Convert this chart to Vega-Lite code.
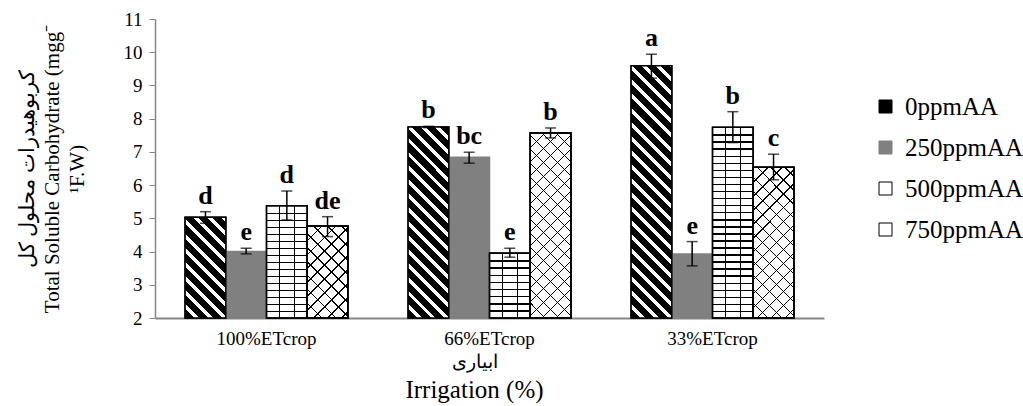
{
  "$schema": "https://vega.github.io/schema/vega-lite/v6.json",
  "width": 669,
  "height": 299,
  "autosize": {"type": "none"},
  "padding": {"left": 155, "top": 19, "right": 199, "bottom": 88},
  "background": "white",
  "config": {
    "view": {"stroke": null},
    "font": "Liberation Serif",
    "axis": {"labelFont": "Liberation Serif", "titleFont": "Liberation Serif", "labelColor": "black", "titleColor": "black"},
    "axisY": {
      "tickCount": 10,
      "labelOverlap": false,
      "grid": false,
      "domainColor": "#868686",
      "domainWidth": 1.5,
      "tickColor": "#868686",
      "tickSize": 6,
      "labelFontSize": 19,
      "labelPadding": 7,
      "titleFontSize": 21,
      "titleFontWeight": "normal",
      "titlePadding": 36,
      "titleLineHeight": 25
    },
    "axisX": {
      "labelAngle": 0,
      "ticks": false,
      "domainColor": "#868686",
      "domainWidth": 2,
      "labelFontSize": 19,
      "labelPadding": 11
    }
  },
  "data": {
    "values": [
      {"irrigation": "100%ETcrop", "dose": "0ppmAA", "value": 5.03, "lo": 4.85, "hi": 5.2, "letter": "d"},
      {"irrigation": "100%ETcrop", "dose": "250ppmAA", "value": 4.0, "lo": 3.93, "hi": 4.1, "letter": "e"},
      {"irrigation": "100%ETcrop", "dose": "500ppmAA", "value": 5.38, "lo": 4.95, "hi": 5.82, "letter": "d"},
      {"irrigation": "100%ETcrop", "dose": "750ppmAA", "value": 4.77, "lo": 4.45, "hi": 5.05, "letter": "de"},
      {"irrigation": "66%ETcrop", "dose": "0ppmAA", "value": 7.75, "lo": 7.73, "hi": 7.77, "letter": "b"},
      {"irrigation": "66%ETcrop", "dose": "250ppmAA", "value": 6.84, "lo": 6.66, "hi": 6.99, "letter": "bc"},
      {"irrigation": "66%ETcrop", "dose": "500ppmAA", "value": 3.95, "lo": 3.83, "hi": 4.1, "letter": "e"},
      {"irrigation": "66%ETcrop", "dose": "750ppmAA", "value": 7.57, "lo": 7.42, "hi": 7.72, "letter": "b"},
      {"irrigation": "33%ETcrop", "dose": "0ppmAA", "value": 9.59, "lo": 9.22, "hi": 9.94, "letter": "a"},
      {"irrigation": "33%ETcrop", "dose": "250ppmAA", "value": 3.93, "lo": 3.57, "hi": 4.3, "letter": "e"},
      {"irrigation": "33%ETcrop", "dose": "500ppmAA", "value": 7.74, "lo": 7.28, "hi": 8.21, "letter": "b"},
      {"irrigation": "33%ETcrop", "dose": "750ppmAA", "value": 6.54, "lo": 6.16, "hi": 6.93, "letter": "c"}
    ]
  },
  "title": {
    "text": "ابیاری",
    "subtitle": "Irrigation (%)",
    "orient": "bottom",
    "anchor": "middle",
    "frame": "group",
    "font": "Liberation Serif",
    "fontSize": 19,
    "fontWeight": "normal",
    "color": "black",
    "subtitleFont": "Liberation Serif",
    "subtitleFontSize": 25,
    "subtitleColor": "black",
    "offset": 5,
    "subtitlePadding": 6,
    "dx": -15
  },
  "encoding": {
    "x": {
      "field": "irrigation",
      "type": "nominal",
      "sort": ["100%ETcrop", "66%ETcrop", "33%ETcrop"],
      "scale": {"paddingInner": 0.27, "paddingOuter": 0.135},
      "axis": {"title": null}
    },
    "xOffset": {
      "field": "dose",
      "type": "nominal",
      "sort": ["0ppmAA", "250ppmAA", "500ppmAA", "750ppmAA"],
      "scale": {"paddingInner": 0, "paddingOuter": 0}
    }
  },
  "layer": [
    {
      "mark": {"type": "bar", "strokeWidth": 1.5},
      "encoding": {
        "y": {
          "field": "value",
          "type": "quantitative",
          "scale": {"domain": [2, 11], "zero": false, "nice": false},
          "axis": {"title": ["کربوهیدرات محلول کل", "Total Soluble Carbohydrate (mgg⁻", "¹F.W)"]}
        },
        "y2": {"datum": 2},
        "fill": {
          "field": "dose",
          "type": "nominal",
          "scale": {
            "domain": ["0ppmAA", "250ppmAA", "500ppmAA", "750ppmAA"],
            "range": ["#000000", "#808080", "#ffffff", "#ffffff"]
          },
          "legend": {
            "title": null,
            "orient": "none",
            "legendX": 718,
            "legendY": 75,
            "symbolType": "square",
            "symbolSize": 169,
            "symbolStrokeColor": "black",
            "symbolStrokeWidth": 1,
            "labelFont": "Liberation Serif",
            "labelFontSize": 25,
            "labelColor": "black",
            "labelOffset": 7,
            "rowPadding": 15,
            "padding": 0
          }
        },
        "stroke": {
          "field": "dose",
          "type": "nominal",
          "scale": {
            "domain": ["0ppmAA", "250ppmAA", "500ppmAA", "750ppmAA"],
            "range": ["#000000", "#808080", "#000000", "#000000"]
          },
          "legend": null
        }
      }
    },
    {
      "transform": [{"filter": "datum.dose == '0ppmAA' && datum.irrigation == '100%ETcrop'"}],
      "mark": {
        "type": "bar", "stroke": "black", "strokeWidth": 1.5,
        "fill": {
          "gradient": "linear", "x1": 0, "y1": 1, "x2": 0.4879, "y2": -0.2071,
          "stops": [
            {"offset": 0, "color": "#000"}, {"offset": 0.065, "color": "#000"}, {"offset": 0.065, "color": "#fff"}, {"offset": 0.1, "color": "#fff"},
            {"offset": 0.1, "color": "#000"}, {"offset": 0.165, "color": "#000"}, {"offset": 0.165, "color": "#fff"}, {"offset": 0.2, "color": "#fff"},
            {"offset": 0.2, "color": "#000"}, {"offset": 0.265, "color": "#000"}, {"offset": 0.265, "color": "#fff"}, {"offset": 0.3, "color": "#fff"},
            {"offset": 0.3, "color": "#000"}, {"offset": 0.365, "color": "#000"}, {"offset": 0.365, "color": "#fff"}, {"offset": 0.4, "color": "#fff"},
            {"offset": 0.4, "color": "#000"}, {"offset": 0.465, "color": "#000"}, {"offset": 0.465, "color": "#fff"}, {"offset": 0.5, "color": "#fff"},
            {"offset": 0.5, "color": "#000"}, {"offset": 0.565, "color": "#000"}, {"offset": 0.565, "color": "#fff"}, {"offset": 0.6, "color": "#fff"},
            {"offset": 0.6, "color": "#000"}, {"offset": 0.665, "color": "#000"}, {"offset": 0.665, "color": "#fff"}, {"offset": 0.7, "color": "#fff"},
            {"offset": 0.7, "color": "#000"}, {"offset": 0.765, "color": "#000"}, {"offset": 0.765, "color": "#fff"}, {"offset": 0.8, "color": "#fff"},
            {"offset": 0.8, "color": "#000"}, {"offset": 0.865, "color": "#000"}, {"offset": 0.865, "color": "#fff"}, {"offset": 0.9, "color": "#fff"},
            {"offset": 0.9, "color": "#000"}, {"offset": 0.965, "color": "#000"}, {"offset": 0.965, "color": "#fff"}, {"offset": 1, "color": "#fff"}
          ]
        }
      },
      "encoding": {"y": {"field": "value", "type": "quantitative"}, "y2": {"datum": 2}}
    },
    {
      "transform": [{"filter": "datum.dose == '0ppmAA' && datum.irrigation == '66%ETcrop'"}],
      "mark": {
        "type": "bar", "stroke": "black", "strokeWidth": 1.5,
        "fill": {
          "gradient": "linear", "x1": 0, "y1": 1, "x2": 0.2473, "y2": -0.1605,
          "stops": [
            {"offset": 0, "color": "#000"}, {"offset": 0.039, "color": "#000"}, {"offset": 0.039, "color": "#fff"}, {"offset": 0.06, "color": "#fff"},
            {"offset": 0.06, "color": "#000"}, {"offset": 0.099, "color": "#000"}, {"offset": 0.099, "color": "#fff"}, {"offset": 0.12, "color": "#fff"},
            {"offset": 0.12, "color": "#000"}, {"offset": 0.159, "color": "#000"}, {"offset": 0.159, "color": "#fff"}, {"offset": 0.18, "color": "#fff"},
            {"offset": 0.18, "color": "#000"}, {"offset": 0.219, "color": "#000"}, {"offset": 0.219, "color": "#fff"}, {"offset": 0.24, "color": "#fff"},
            {"offset": 0.24, "color": "#000"}, {"offset": 0.279, "color": "#000"}, {"offset": 0.279, "color": "#fff"}, {"offset": 0.3, "color": "#fff"},
            {"offset": 0.3, "color": "#000"}, {"offset": 0.339, "color": "#000"}, {"offset": 0.339, "color": "#fff"}, {"offset": 0.36, "color": "#fff"},
            {"offset": 0.36, "color": "#000"}, {"offset": 0.399, "color": "#000"}, {"offset": 0.399, "color": "#fff"}, {"offset": 0.42, "color": "#fff"},
            {"offset": 0.42, "color": "#000"}, {"offset": 0.459, "color": "#000"}, {"offset": 0.459, "color": "#fff"}, {"offset": 0.48, "color": "#fff"},
            {"offset": 0.48, "color": "#000"}, {"offset": 0.519, "color": "#000"}, {"offset": 0.519, "color": "#fff"}, {"offset": 0.54, "color": "#fff"},
            {"offset": 0.54, "color": "#000"}, {"offset": 0.579, "color": "#000"}, {"offset": 0.579, "color": "#fff"}, {"offset": 0.6, "color": "#fff"},
            {"offset": 0.6, "color": "#000"}, {"offset": 0.639, "color": "#000"}, {"offset": 0.639, "color": "#fff"}, {"offset": 0.66, "color": "#fff"},
            {"offset": 0.66, "color": "#000"}, {"offset": 0.699, "color": "#000"}, {"offset": 0.699, "color": "#fff"}, {"offset": 0.72, "color": "#fff"},
            {"offset": 0.72, "color": "#000"}, {"offset": 0.759, "color": "#000"}, {"offset": 0.759, "color": "#fff"}, {"offset": 0.78, "color": "#fff"},
            {"offset": 0.78, "color": "#000"}, {"offset": 0.819, "color": "#000"}, {"offset": 0.819, "color": "#fff"}, {"offset": 0.84, "color": "#fff"},
            {"offset": 0.84, "color": "#000"}, {"offset": 0.879, "color": "#000"}, {"offset": 0.879, "color": "#fff"}, {"offset": 0.9, "color": "#fff"},
            {"offset": 0.9, "color": "#000"}, {"offset": 0.939, "color": "#000"}, {"offset": 0.939, "color": "#fff"}, {"offset": 0.96, "color": "#fff"},
            {"offset": 0.96, "color": "#000"}, {"offset": 0.999, "color": "#000"}, {"offset": 0.999, "color": "#fff"}, {"offset": 1, "color": "#fff"}
          ]
        }
      },
      "encoding": {"y": {"field": "value", "type": "quantitative"}, "y2": {"datum": 2}}
    },
    {
      "transform": [{"filter": "datum.dose == '0ppmAA' && datum.irrigation == '33%ETcrop'"}],
      "mark": {
        "type": "bar", "stroke": "black", "strokeWidth": 1.5,
        "fill": {
          "gradient": "linear", "x1": 0, "y1": 1, "x2": 0.1827, "y2": -0.132,
          "stops": [
            {"offset": 0, "color": "#000"}, {"offset": 0.031, "color": "#000"}, {"offset": 0.031, "color": "#fff"}, {"offset": 0.048, "color": "#fff"},
            {"offset": 0.048, "color": "#000"}, {"offset": 0.079, "color": "#000"}, {"offset": 0.079, "color": "#fff"}, {"offset": 0.096, "color": "#fff"},
            {"offset": 0.096, "color": "#000"}, {"offset": 0.127, "color": "#000"}, {"offset": 0.127, "color": "#fff"}, {"offset": 0.144, "color": "#fff"},
            {"offset": 0.144, "color": "#000"}, {"offset": 0.175, "color": "#000"}, {"offset": 0.175, "color": "#fff"}, {"offset": 0.192, "color": "#fff"},
            {"offset": 0.192, "color": "#000"}, {"offset": 0.223, "color": "#000"}, {"offset": 0.223, "color": "#fff"}, {"offset": 0.24, "color": "#fff"},
            {"offset": 0.24, "color": "#000"}, {"offset": 0.271, "color": "#000"}, {"offset": 0.271, "color": "#fff"}, {"offset": 0.288, "color": "#fff"},
            {"offset": 0.288, "color": "#000"}, {"offset": 0.319, "color": "#000"}, {"offset": 0.319, "color": "#fff"}, {"offset": 0.336, "color": "#fff"},
            {"offset": 0.336, "color": "#000"}, {"offset": 0.367, "color": "#000"}, {"offset": 0.367, "color": "#fff"}, {"offset": 0.384, "color": "#fff"},
            {"offset": 0.384, "color": "#000"}, {"offset": 0.415, "color": "#000"}, {"offset": 0.415, "color": "#fff"}, {"offset": 0.432, "color": "#fff"},
            {"offset": 0.432, "color": "#000"}, {"offset": 0.463, "color": "#000"}, {"offset": 0.463, "color": "#fff"}, {"offset": 0.48, "color": "#fff"},
            {"offset": 0.48, "color": "#000"}, {"offset": 0.511, "color": "#000"}, {"offset": 0.511, "color": "#fff"}, {"offset": 0.528, "color": "#fff"},
            {"offset": 0.528, "color": "#000"}, {"offset": 0.559, "color": "#000"}, {"offset": 0.559, "color": "#fff"}, {"offset": 0.576, "color": "#fff"},
            {"offset": 0.576, "color": "#000"}, {"offset": 0.607, "color": "#000"}, {"offset": 0.607, "color": "#fff"}, {"offset": 0.624, "color": "#fff"},
            {"offset": 0.624, "color": "#000"}, {"offset": 0.655, "color": "#000"}, {"offset": 0.655, "color": "#fff"}, {"offset": 0.672, "color": "#fff"},
            {"offset": 0.672, "color": "#000"}, {"offset": 0.703, "color": "#000"}, {"offset": 0.703, "color": "#fff"}, {"offset": 0.72, "color": "#fff"},
            {"offset": 0.72, "color": "#000"}, {"offset": 0.751, "color": "#000"}, {"offset": 0.751, "color": "#fff"}, {"offset": 0.768, "color": "#fff"},
            {"offset": 0.768, "color": "#000"}, {"offset": 0.799, "color": "#000"}, {"offset": 0.799, "color": "#fff"}, {"offset": 0.816, "color": "#fff"},
            {"offset": 0.816, "color": "#000"}, {"offset": 0.847, "color": "#000"}, {"offset": 0.847, "color": "#fff"}, {"offset": 0.864, "color": "#fff"},
            {"offset": 0.864, "color": "#000"}, {"offset": 0.895, "color": "#000"}, {"offset": 0.895, "color": "#fff"}, {"offset": 0.912, "color": "#fff"},
            {"offset": 0.912, "color": "#000"}, {"offset": 0.943, "color": "#000"}, {"offset": 0.943, "color": "#fff"}, {"offset": 0.96, "color": "#fff"},
            {"offset": 0.96, "color": "#000"}, {"offset": 0.991, "color": "#000"}, {"offset": 0.991, "color": "#fff"}, {"offset": 1, "color": "#fff"}
          ]
        }
      },
      "encoding": {"y": {"field": "value", "type": "quantitative"}, "y2": {"datum": 2}}
    },
    {
      "transform": [{"filter": "datum.dose == '500ppmAA' && datum.irrigation == '100%ETcrop'"}],
      "mark": {
        "type": "bar", "stroke": "black", "strokeWidth": 1.2,
        "fill": {
          "gradient": "linear", "x1": 0, "y1": 0, "x2": 0, "y2": 1,
          "stops": [
            {"offset": 0, "color": "rgba(0,0,0,0)"},
            {"offset": 0.0625, "color": "rgba(0,0,0,0)"}, {"offset": 0.0625, "color": "#000"}, {"offset": 0.0755, "color": "#000"}, {"offset": 0.0755, "color": "rgba(0,0,0,0)"},
            {"offset": 0.125, "color": "rgba(0,0,0,0)"}, {"offset": 0.125, "color": "#000"}, {"offset": 0.138, "color": "#000"}, {"offset": 0.138, "color": "rgba(0,0,0,0)"},
            {"offset": 0.1875, "color": "rgba(0,0,0,0)"}, {"offset": 0.1875, "color": "#000"}, {"offset": 0.2005, "color": "#000"}, {"offset": 0.2005, "color": "rgba(0,0,0,0)"},
            {"offset": 0.25, "color": "rgba(0,0,0,0)"}, {"offset": 0.25, "color": "#000"}, {"offset": 0.263, "color": "#000"}, {"offset": 0.263, "color": "rgba(0,0,0,0)"},
            {"offset": 0.3125, "color": "rgba(0,0,0,0)"}, {"offset": 0.3125, "color": "#000"}, {"offset": 0.3255, "color": "#000"}, {"offset": 0.3255, "color": "rgba(0,0,0,0)"},
            {"offset": 0.375, "color": "rgba(0,0,0,0)"}, {"offset": 0.375, "color": "#000"}, {"offset": 0.388, "color": "#000"}, {"offset": 0.388, "color": "rgba(0,0,0,0)"},
            {"offset": 0.4375, "color": "rgba(0,0,0,0)"}, {"offset": 0.4375, "color": "#000"}, {"offset": 0.4505, "color": "#000"}, {"offset": 0.4505, "color": "rgba(0,0,0,0)"},
            {"offset": 0.5, "color": "rgba(0,0,0,0)"}, {"offset": 0.5, "color": "#000"}, {"offset": 0.513, "color": "#000"}, {"offset": 0.513, "color": "rgba(0,0,0,0)"},
            {"offset": 0.5625, "color": "rgba(0,0,0,0)"}, {"offset": 0.5625, "color": "#000"}, {"offset": 0.5755, "color": "#000"}, {"offset": 0.5755, "color": "rgba(0,0,0,0)"},
            {"offset": 0.625, "color": "rgba(0,0,0,0)"}, {"offset": 0.625, "color": "#000"}, {"offset": 0.638, "color": "#000"}, {"offset": 0.638, "color": "rgba(0,0,0,0)"},
            {"offset": 0.6875, "color": "rgba(0,0,0,0)"}, {"offset": 0.6875, "color": "#000"}, {"offset": 0.7005, "color": "#000"}, {"offset": 0.7005, "color": "rgba(0,0,0,0)"},
            {"offset": 0.75, "color": "rgba(0,0,0,0)"}, {"offset": 0.75, "color": "#000"}, {"offset": 0.763, "color": "#000"}, {"offset": 0.763, "color": "rgba(0,0,0,0)"},
            {"offset": 0.8125, "color": "rgba(0,0,0,0)"}, {"offset": 0.8125, "color": "#000"}, {"offset": 0.8255, "color": "#000"}, {"offset": 0.8255, "color": "rgba(0,0,0,0)"},
            {"offset": 0.875, "color": "rgba(0,0,0,0)"}, {"offset": 0.875, "color": "#000"}, {"offset": 0.888, "color": "#000"}, {"offset": 0.888, "color": "rgba(0,0,0,0)"},
            {"offset": 0.9375, "color": "rgba(0,0,0,0)"}, {"offset": 0.9375, "color": "#000"}, {"offset": 0.9505, "color": "#000"}, {"offset": 0.9505, "color": "rgba(0,0,0,0)"},
            {"offset": 1, "color": "rgba(0,0,0,0)"}
          ]
        }
      },
      "encoding": {"y": {"field": "value", "type": "quantitative"}, "y2": {"datum": 2}}
    },
    {
      "transform": [{"filter": "datum.dose == '500ppmAA' && datum.irrigation == '66%ETcrop'"}],
      "mark": {
        "type": "bar", "stroke": "black", "strokeWidth": 1.2,
        "fill": {
          "gradient": "linear", "x1": 0, "y1": 0, "x2": 0, "y2": 1,
          "stops": [
            {"offset": 0, "color": "rgba(0,0,0,0)"},
            {"offset": 0.11, "color": "rgba(0,0,0,0)"}, {"offset": 0.11, "color": "#000"}, {"offset": 0.133, "color": "#000"}, {"offset": 0.133, "color": "rgba(0,0,0,0)"},
            {"offset": 0.22, "color": "rgba(0,0,0,0)"}, {"offset": 0.22, "color": "#000"}, {"offset": 0.243, "color": "#000"}, {"offset": 0.243, "color": "rgba(0,0,0,0)"},
            {"offset": 0.33, "color": "rgba(0,0,0,0)"}, {"offset": 0.33, "color": "#000"}, {"offset": 0.353, "color": "#000"}, {"offset": 0.353, "color": "rgba(0,0,0,0)"},
            {"offset": 0.44, "color": "rgba(0,0,0,0)"}, {"offset": 0.44, "color": "#000"}, {"offset": 0.463, "color": "#000"}, {"offset": 0.463, "color": "rgba(0,0,0,0)"},
            {"offset": 0.55, "color": "rgba(0,0,0,0)"}, {"offset": 0.55, "color": "#000"}, {"offset": 0.573, "color": "#000"}, {"offset": 0.573, "color": "rgba(0,0,0,0)"},
            {"offset": 0.66, "color": "rgba(0,0,0,0)"}, {"offset": 0.66, "color": "#000"}, {"offset": 0.683, "color": "#000"}, {"offset": 0.683, "color": "rgba(0,0,0,0)"},
            {"offset": 0.77, "color": "rgba(0,0,0,0)"}, {"offset": 0.77, "color": "#000"}, {"offset": 0.793, "color": "#000"}, {"offset": 0.793, "color": "rgba(0,0,0,0)"},
            {"offset": 0.88, "color": "rgba(0,0,0,0)"}, {"offset": 0.88, "color": "#000"}, {"offset": 0.903, "color": "#000"}, {"offset": 0.903, "color": "rgba(0,0,0,0)"},
            {"offset": 1, "color": "rgba(0,0,0,0)"}
          ]
        }
      },
      "encoding": {"y": {"field": "value", "type": "quantitative"}, "y2": {"datum": 2}}
    },
    {
      "transform": [{"filter": "datum.dose == '500ppmAA' && datum.irrigation == '33%ETcrop'"}],
      "mark": {
        "type": "bar", "stroke": "black", "strokeWidth": 1.2,
        "fill": {
          "gradient": "linear", "x1": 0, "y1": 0, "x2": 0, "y2": 1,
          "stops": [
            {"offset": 0, "color": "rgba(0,0,0,0)"},
            {"offset": 0.037, "color": "rgba(0,0,0,0)"}, {"offset": 0.037, "color": "#000"}, {"offset": 0.045, "color": "#000"}, {"offset": 0.045, "color": "rgba(0,0,0,0)"},
            {"offset": 0.074, "color": "rgba(0,0,0,0)"}, {"offset": 0.074, "color": "#000"}, {"offset": 0.082, "color": "#000"}, {"offset": 0.082, "color": "rgba(0,0,0,0)"},
            {"offset": 0.111, "color": "rgba(0,0,0,0)"}, {"offset": 0.111, "color": "#000"}, {"offset": 0.119, "color": "#000"}, {"offset": 0.119, "color": "rgba(0,0,0,0)"},
            {"offset": 0.148, "color": "rgba(0,0,0,0)"}, {"offset": 0.148, "color": "#000"}, {"offset": 0.156, "color": "#000"}, {"offset": 0.156, "color": "rgba(0,0,0,0)"},
            {"offset": 0.185, "color": "rgba(0,0,0,0)"}, {"offset": 0.185, "color": "#000"}, {"offset": 0.193, "color": "#000"}, {"offset": 0.193, "color": "rgba(0,0,0,0)"},
            {"offset": 0.222, "color": "rgba(0,0,0,0)"}, {"offset": 0.222, "color": "#000"}, {"offset": 0.23, "color": "#000"}, {"offset": 0.23, "color": "rgba(0,0,0,0)"},
            {"offset": 0.259, "color": "rgba(0,0,0,0)"}, {"offset": 0.259, "color": "#000"}, {"offset": 0.267, "color": "#000"}, {"offset": 0.267, "color": "rgba(0,0,0,0)"},
            {"offset": 0.296, "color": "rgba(0,0,0,0)"}, {"offset": 0.296, "color": "#000"}, {"offset": 0.304, "color": "#000"}, {"offset": 0.304, "color": "rgba(0,0,0,0)"},
            {"offset": 0.333, "color": "rgba(0,0,0,0)"}, {"offset": 0.333, "color": "#000"}, {"offset": 0.341, "color": "#000"}, {"offset": 0.341, "color": "rgba(0,0,0,0)"},
            {"offset": 0.37, "color": "rgba(0,0,0,0)"}, {"offset": 0.37, "color": "#000"}, {"offset": 0.378, "color": "#000"}, {"offset": 0.378, "color": "rgba(0,0,0,0)"},
            {"offset": 0.407, "color": "rgba(0,0,0,0)"}, {"offset": 0.407, "color": "#000"}, {"offset": 0.415, "color": "#000"}, {"offset": 0.415, "color": "rgba(0,0,0,0)"},
            {"offset": 0.444, "color": "rgba(0,0,0,0)"}, {"offset": 0.444, "color": "#000"}, {"offset": 0.452, "color": "#000"}, {"offset": 0.452, "color": "rgba(0,0,0,0)"},
            {"offset": 0.481, "color": "rgba(0,0,0,0)"}, {"offset": 0.481, "color": "#000"}, {"offset": 0.489, "color": "#000"}, {"offset": 0.489, "color": "rgba(0,0,0,0)"},
            {"offset": 0.518, "color": "rgba(0,0,0,0)"}, {"offset": 0.518, "color": "#000"}, {"offset": 0.526, "color": "#000"}, {"offset": 0.526, "color": "rgba(0,0,0,0)"},
            {"offset": 0.555, "color": "rgba(0,0,0,0)"}, {"offset": 0.555, "color": "#000"}, {"offset": 0.563, "color": "#000"}, {"offset": 0.563, "color": "rgba(0,0,0,0)"},
            {"offset": 0.592, "color": "rgba(0,0,0,0)"}, {"offset": 0.592, "color": "#000"}, {"offset": 0.6, "color": "#000"}, {"offset": 0.6, "color": "rgba(0,0,0,0)"},
            {"offset": 0.629, "color": "rgba(0,0,0,0)"}, {"offset": 0.629, "color": "#000"}, {"offset": 0.637, "color": "#000"}, {"offset": 0.637, "color": "rgba(0,0,0,0)"},
            {"offset": 0.666, "color": "rgba(0,0,0,0)"}, {"offset": 0.666, "color": "#000"}, {"offset": 0.674, "color": "#000"}, {"offset": 0.674, "color": "rgba(0,0,0,0)"},
            {"offset": 0.703, "color": "rgba(0,0,0,0)"}, {"offset": 0.703, "color": "#000"}, {"offset": 0.711, "color": "#000"}, {"offset": 0.711, "color": "rgba(0,0,0,0)"},
            {"offset": 0.74, "color": "rgba(0,0,0,0)"}, {"offset": 0.74, "color": "#000"}, {"offset": 0.748, "color": "#000"}, {"offset": 0.748, "color": "rgba(0,0,0,0)"},
            {"offset": 0.777, "color": "rgba(0,0,0,0)"}, {"offset": 0.777, "color": "#000"}, {"offset": 0.785, "color": "#000"}, {"offset": 0.785, "color": "rgba(0,0,0,0)"},
            {"offset": 0.814, "color": "rgba(0,0,0,0)"}, {"offset": 0.814, "color": "#000"}, {"offset": 0.822, "color": "#000"}, {"offset": 0.822, "color": "rgba(0,0,0,0)"},
            {"offset": 0.851, "color": "rgba(0,0,0,0)"}, {"offset": 0.851, "color": "#000"}, {"offset": 0.859, "color": "#000"}, {"offset": 0.859, "color": "rgba(0,0,0,0)"},
            {"offset": 0.888, "color": "rgba(0,0,0,0)"}, {"offset": 0.888, "color": "#000"}, {"offset": 0.896, "color": "#000"}, {"offset": 0.896, "color": "rgba(0,0,0,0)"},
            {"offset": 0.925, "color": "rgba(0,0,0,0)"}, {"offset": 0.925, "color": "#000"}, {"offset": 0.933, "color": "#000"}, {"offset": 0.933, "color": "rgba(0,0,0,0)"},
            {"offset": 0.962, "color": "rgba(0,0,0,0)"}, {"offset": 0.962, "color": "#000"}, {"offset": 0.97, "color": "#000"}, {"offset": 0.97, "color": "rgba(0,0,0,0)"},
            {"offset": 1, "color": "rgba(0,0,0,0)"}
          ]
        }
      },
      "encoding": {"y": {"field": "value", "type": "quantitative"}, "y2": {"datum": 2}}
    },
    {
      "transform": [{"filter": "datum.dose == '500ppmAA'"}],
      "mark": {
        "type": "bar", "stroke": "black", "strokeWidth": 1.2,
        "fill": {
          "gradient": "linear", "x1": 0, "y1": 0, "x2": 1, "y2": 0,
          "stops": [
            {"offset": 0, "color": "rgba(0,0,0,0)"},
            {"offset": 0.3, "color": "rgba(0,0,0,0)"}, {"offset": 0.3, "color": "#000"}, {"offset": 0.33, "color": "#000"}, {"offset": 0.33, "color": "rgba(0,0,0,0)"},
            {"offset": 0.67, "color": "rgba(0,0,0,0)"}, {"offset": 0.67, "color": "#000"}, {"offset": 0.7, "color": "#000"}, {"offset": 0.7, "color": "rgba(0,0,0,0)"},
            {"offset": 1, "color": "rgba(0,0,0,0)"}
          ]
        }
      },
      "encoding": {"y": {"field": "value", "type": "quantitative"}, "y2": {"datum": 2}}
    },
    {
      "transform": [{"filter": "datum.dose == '750ppmAA' && datum.irrigation == '100%ETcrop'"}],
      "layer": [
        {"mark": {"type": "bar", "stroke": "black", "strokeWidth": 1.5, "fill": {"gradient": "linear", "x1": 0, "y1": 1, "x2": 0.5337, "y2": -0.2063, "stops": [
          {"offset": 0, "color": "rgba(0,0,0,0)"},
          {"offset": 0.105, "color": "rgba(0,0,0,0)"}, {"offset": 0.105, "color": "#000"}, {"offset": 0.118, "color": "#000"}, {"offset": 0.118, "color": "rgba(0,0,0,0)"},
          {"offset": 0.21, "color": "rgba(0,0,0,0)"}, {"offset": 0.21, "color": "#000"}, {"offset": 0.223, "color": "#000"}, {"offset": 0.223, "color": "rgba(0,0,0,0)"},
          {"offset": 0.315, "color": "rgba(0,0,0,0)"}, {"offset": 0.315, "color": "#000"}, {"offset": 0.328, "color": "#000"}, {"offset": 0.328, "color": "rgba(0,0,0,0)"},
          {"offset": 0.42, "color": "rgba(0,0,0,0)"}, {"offset": 0.42, "color": "#000"}, {"offset": 0.433, "color": "#000"}, {"offset": 0.433, "color": "rgba(0,0,0,0)"},
          {"offset": 0.525, "color": "rgba(0,0,0,0)"}, {"offset": 0.525, "color": "#000"}, {"offset": 0.538, "color": "#000"}, {"offset": 0.538, "color": "rgba(0,0,0,0)"},
          {"offset": 0.63, "color": "rgba(0,0,0,0)"}, {"offset": 0.63, "color": "#000"}, {"offset": 0.643, "color": "#000"}, {"offset": 0.643, "color": "rgba(0,0,0,0)"},
          {"offset": 0.735, "color": "rgba(0,0,0,0)"}, {"offset": 0.735, "color": "#000"}, {"offset": 0.748, "color": "#000"}, {"offset": 0.748, "color": "rgba(0,0,0,0)"},
          {"offset": 0.84, "color": "rgba(0,0,0,0)"}, {"offset": 0.84, "color": "#000"}, {"offset": 0.853, "color": "#000"}, {"offset": 0.853, "color": "rgba(0,0,0,0)"},
          {"offset": 0.945, "color": "rgba(0,0,0,0)"}, {"offset": 0.945, "color": "#000"}, {"offset": 0.958, "color": "#000"}, {"offset": 0.958, "color": "rgba(0,0,0,0)"},
          {"offset": 1, "color": "rgba(0,0,0,0)"}]}},
          "encoding": {"y": {"field": "value", "type": "quantitative"}, "y2": {"datum": 2}}},
        {"mark": {"type": "bar", "stroke": "black", "strokeWidth": 1.5, "fill": {"gradient": "linear", "x1": 0, "y1": 0, "x2": 0.5337, "y2": 1.2063, "stops": [
          {"offset": 0, "color": "rgba(0,0,0,0)"},
          {"offset": 0.105, "color": "rgba(0,0,0,0)"}, {"offset": 0.105, "color": "#000"}, {"offset": 0.118, "color": "#000"}, {"offset": 0.118, "color": "rgba(0,0,0,0)"},
          {"offset": 0.21, "color": "rgba(0,0,0,0)"}, {"offset": 0.21, "color": "#000"}, {"offset": 0.223, "color": "#000"}, {"offset": 0.223, "color": "rgba(0,0,0,0)"},
          {"offset": 0.315, "color": "rgba(0,0,0,0)"}, {"offset": 0.315, "color": "#000"}, {"offset": 0.328, "color": "#000"}, {"offset": 0.328, "color": "rgba(0,0,0,0)"},
          {"offset": 0.42, "color": "rgba(0,0,0,0)"}, {"offset": 0.42, "color": "#000"}, {"offset": 0.433, "color": "#000"}, {"offset": 0.433, "color": "rgba(0,0,0,0)"},
          {"offset": 0.525, "color": "rgba(0,0,0,0)"}, {"offset": 0.525, "color": "#000"}, {"offset": 0.538, "color": "#000"}, {"offset": 0.538, "color": "rgba(0,0,0,0)"},
          {"offset": 0.63, "color": "rgba(0,0,0,0)"}, {"offset": 0.63, "color": "#000"}, {"offset": 0.643, "color": "#000"}, {"offset": 0.643, "color": "rgba(0,0,0,0)"},
          {"offset": 0.735, "color": "rgba(0,0,0,0)"}, {"offset": 0.735, "color": "#000"}, {"offset": 0.748, "color": "#000"}, {"offset": 0.748, "color": "rgba(0,0,0,0)"},
          {"offset": 0.84, "color": "rgba(0,0,0,0)"}, {"offset": 0.84, "color": "#000"}, {"offset": 0.853, "color": "#000"}, {"offset": 0.853, "color": "rgba(0,0,0,0)"},
          {"offset": 0.945, "color": "rgba(0,0,0,0)"}, {"offset": 0.945, "color": "#000"}, {"offset": 0.958, "color": "#000"}, {"offset": 0.958, "color": "rgba(0,0,0,0)"},
          {"offset": 1, "color": "rgba(0,0,0,0)"}]}},
          "encoding": {"y": {"field": "value", "type": "quantitative"}, "y2": {"datum": 2}}}
      ]
    },
    {
      "transform": [{"filter": "datum.dose == '750ppmAA' && datum.irrigation == '66%ETcrop'"}],
      "layer": [
        {"mark": {"type": "bar", "stroke": "black", "strokeWidth": 1.5, "fill": {"gradient": "linear", "x1": 0, "y1": 1, "x2": 0.256, "y2": -0.1637, "stops": [
          {"offset": 0, "color": "rgba(0,0,0,0)"},
          {"offset": 0.062, "color": "rgba(0,0,0,0)"}, {"offset": 0.062, "color": "#000"}, {"offset": 0.07, "color": "#000"}, {"offset": 0.07, "color": "rgba(0,0,0,0)"},
          {"offset": 0.124, "color": "rgba(0,0,0,0)"}, {"offset": 0.124, "color": "#000"}, {"offset": 0.132, "color": "#000"}, {"offset": 0.132, "color": "rgba(0,0,0,0)"},
          {"offset": 0.186, "color": "rgba(0,0,0,0)"}, {"offset": 0.186, "color": "#000"}, {"offset": 0.194, "color": "#000"}, {"offset": 0.194, "color": "rgba(0,0,0,0)"},
          {"offset": 0.248, "color": "rgba(0,0,0,0)"}, {"offset": 0.248, "color": "#000"}, {"offset": 0.256, "color": "#000"}, {"offset": 0.256, "color": "rgba(0,0,0,0)"},
          {"offset": 0.31, "color": "rgba(0,0,0,0)"}, {"offset": 0.31, "color": "#000"}, {"offset": 0.318, "color": "#000"}, {"offset": 0.318, "color": "rgba(0,0,0,0)"},
          {"offset": 0.372, "color": "rgba(0,0,0,0)"}, {"offset": 0.372, "color": "#000"}, {"offset": 0.38, "color": "#000"}, {"offset": 0.38, "color": "rgba(0,0,0,0)"},
          {"offset": 0.434, "color": "rgba(0,0,0,0)"}, {"offset": 0.434, "color": "#000"}, {"offset": 0.442, "color": "#000"}, {"offset": 0.442, "color": "rgba(0,0,0,0)"},
          {"offset": 0.496, "color": "rgba(0,0,0,0)"}, {"offset": 0.496, "color": "#000"}, {"offset": 0.504, "color": "#000"}, {"offset": 0.504, "color": "rgba(0,0,0,0)"},
          {"offset": 0.558, "color": "rgba(0,0,0,0)"}, {"offset": 0.558, "color": "#000"}, {"offset": 0.566, "color": "#000"}, {"offset": 0.566, "color": "rgba(0,0,0,0)"},
          {"offset": 0.62, "color": "rgba(0,0,0,0)"}, {"offset": 0.62, "color": "#000"}, {"offset": 0.628, "color": "#000"}, {"offset": 0.628, "color": "rgba(0,0,0,0)"},
          {"offset": 0.682, "color": "rgba(0,0,0,0)"}, {"offset": 0.682, "color": "#000"}, {"offset": 0.69, "color": "#000"}, {"offset": 0.69, "color": "rgba(0,0,0,0)"},
          {"offset": 0.744, "color": "rgba(0,0,0,0)"}, {"offset": 0.744, "color": "#000"}, {"offset": 0.752, "color": "#000"}, {"offset": 0.752, "color": "rgba(0,0,0,0)"},
          {"offset": 0.806, "color": "rgba(0,0,0,0)"}, {"offset": 0.806, "color": "#000"}, {"offset": 0.814, "color": "#000"}, {"offset": 0.814, "color": "rgba(0,0,0,0)"},
          {"offset": 0.868, "color": "rgba(0,0,0,0)"}, {"offset": 0.868, "color": "#000"}, {"offset": 0.876, "color": "#000"}, {"offset": 0.876, "color": "rgba(0,0,0,0)"},
          {"offset": 0.93, "color": "rgba(0,0,0,0)"}, {"offset": 0.93, "color": "#000"}, {"offset": 0.938, "color": "#000"}, {"offset": 0.938, "color": "rgba(0,0,0,0)"},
          {"offset": 1, "color": "rgba(0,0,0,0)"}]}},
          "encoding": {"y": {"field": "value", "type": "quantitative"}, "y2": {"datum": 2}}},
        {"mark": {"type": "bar", "stroke": "black", "strokeWidth": 1.5, "fill": {"gradient": "linear", "x1": 0, "y1": 0, "x2": 0.256, "y2": 1.1637, "stops": [
          {"offset": 0, "color": "rgba(0,0,0,0)"},
          {"offset": 0.062, "color": "rgba(0,0,0,0)"}, {"offset": 0.062, "color": "#000"}, {"offset": 0.07, "color": "#000"}, {"offset": 0.07, "color": "rgba(0,0,0,0)"},
          {"offset": 0.124, "color": "rgba(0,0,0,0)"}, {"offset": 0.124, "color": "#000"}, {"offset": 0.132, "color": "#000"}, {"offset": 0.132, "color": "rgba(0,0,0,0)"},
          {"offset": 0.186, "color": "rgba(0,0,0,0)"}, {"offset": 0.186, "color": "#000"}, {"offset": 0.194, "color": "#000"}, {"offset": 0.194, "color": "rgba(0,0,0,0)"},
          {"offset": 0.248, "color": "rgba(0,0,0,0)"}, {"offset": 0.248, "color": "#000"}, {"offset": 0.256, "color": "#000"}, {"offset": 0.256, "color": "rgba(0,0,0,0)"},
          {"offset": 0.31, "color": "rgba(0,0,0,0)"}, {"offset": 0.31, "color": "#000"}, {"offset": 0.318, "color": "#000"}, {"offset": 0.318, "color": "rgba(0,0,0,0)"},
          {"offset": 0.372, "color": "rgba(0,0,0,0)"}, {"offset": 0.372, "color": "#000"}, {"offset": 0.38, "color": "#000"}, {"offset": 0.38, "color": "rgba(0,0,0,0)"},
          {"offset": 0.434, "color": "rgba(0,0,0,0)"}, {"offset": 0.434, "color": "#000"}, {"offset": 0.442, "color": "#000"}, {"offset": 0.442, "color": "rgba(0,0,0,0)"},
          {"offset": 0.496, "color": "rgba(0,0,0,0)"}, {"offset": 0.496, "color": "#000"}, {"offset": 0.504, "color": "#000"}, {"offset": 0.504, "color": "rgba(0,0,0,0)"},
          {"offset": 0.558, "color": "rgba(0,0,0,0)"}, {"offset": 0.558, "color": "#000"}, {"offset": 0.566, "color": "#000"}, {"offset": 0.566, "color": "rgba(0,0,0,0)"},
          {"offset": 0.62, "color": "rgba(0,0,0,0)"}, {"offset": 0.62, "color": "#000"}, {"offset": 0.628, "color": "#000"}, {"offset": 0.628, "color": "rgba(0,0,0,0)"},
          {"offset": 0.682, "color": "rgba(0,0,0,0)"}, {"offset": 0.682, "color": "#000"}, {"offset": 0.69, "color": "#000"}, {"offset": 0.69, "color": "rgba(0,0,0,0)"},
          {"offset": 0.744, "color": "rgba(0,0,0,0)"}, {"offset": 0.744, "color": "#000"}, {"offset": 0.752, "color": "#000"}, {"offset": 0.752, "color": "rgba(0,0,0,0)"},
          {"offset": 0.806, "color": "rgba(0,0,0,0)"}, {"offset": 0.806, "color": "#000"}, {"offset": 0.814, "color": "#000"}, {"offset": 0.814, "color": "rgba(0,0,0,0)"},
          {"offset": 0.868, "color": "rgba(0,0,0,0)"}, {"offset": 0.868, "color": "#000"}, {"offset": 0.876, "color": "#000"}, {"offset": 0.876, "color": "rgba(0,0,0,0)"},
          {"offset": 0.93, "color": "rgba(0,0,0,0)"}, {"offset": 0.93, "color": "#000"}, {"offset": 0.938, "color": "#000"}, {"offset": 0.938, "color": "rgba(0,0,0,0)"},
          {"offset": 1, "color": "rgba(0,0,0,0)"}]}},
          "encoding": {"y": {"field": "value", "type": "quantitative"}, "y2": {"datum": 2}}}
      ]
    },
    {
      "transform": [{"filter": "datum.dose == '750ppmAA' && datum.irrigation == '33%ETcrop'"}],
      "layer": [
        {"mark": {"type": "bar", "stroke": "black", "strokeWidth": 1.5, "fill": {"gradient": "linear", "x1": 0, "y1": 1, "x2": 0.3195, "y2": -0.1837, "stops": [
          {"offset": 0, "color": "rgba(0,0,0,0)"},
          {"offset": 0.073, "color": "rgba(0,0,0,0)"}, {"offset": 0.073, "color": "#000"}, {"offset": 0.082, "color": "#000"}, {"offset": 0.082, "color": "rgba(0,0,0,0)"},
          {"offset": 0.146, "color": "rgba(0,0,0,0)"}, {"offset": 0.146, "color": "#000"}, {"offset": 0.155, "color": "#000"}, {"offset": 0.155, "color": "rgba(0,0,0,0)"},
          {"offset": 0.219, "color": "rgba(0,0,0,0)"}, {"offset": 0.219, "color": "#000"}, {"offset": 0.228, "color": "#000"}, {"offset": 0.228, "color": "rgba(0,0,0,0)"},
          {"offset": 0.292, "color": "rgba(0,0,0,0)"}, {"offset": 0.292, "color": "#000"}, {"offset": 0.301, "color": "#000"}, {"offset": 0.301, "color": "rgba(0,0,0,0)"},
          {"offset": 0.365, "color": "rgba(0,0,0,0)"}, {"offset": 0.365, "color": "#000"}, {"offset": 0.374, "color": "#000"}, {"offset": 0.374, "color": "rgba(0,0,0,0)"},
          {"offset": 0.438, "color": "rgba(0,0,0,0)"}, {"offset": 0.438, "color": "#000"}, {"offset": 0.447, "color": "#000"}, {"offset": 0.447, "color": "rgba(0,0,0,0)"},
          {"offset": 0.511, "color": "rgba(0,0,0,0)"}, {"offset": 0.511, "color": "#000"}, {"offset": 0.52, "color": "#000"}, {"offset": 0.52, "color": "rgba(0,0,0,0)"},
          {"offset": 0.584, "color": "rgba(0,0,0,0)"}, {"offset": 0.584, "color": "#000"}, {"offset": 0.593, "color": "#000"}, {"offset": 0.593, "color": "rgba(0,0,0,0)"},
          {"offset": 0.657, "color": "rgba(0,0,0,0)"}, {"offset": 0.657, "color": "#000"}, {"offset": 0.666, "color": "#000"}, {"offset": 0.666, "color": "rgba(0,0,0,0)"},
          {"offset": 0.73, "color": "rgba(0,0,0,0)"}, {"offset": 0.73, "color": "#000"}, {"offset": 0.739, "color": "#000"}, {"offset": 0.739, "color": "rgba(0,0,0,0)"},
          {"offset": 0.803, "color": "rgba(0,0,0,0)"}, {"offset": 0.803, "color": "#000"}, {"offset": 0.812, "color": "#000"}, {"offset": 0.812, "color": "rgba(0,0,0,0)"},
          {"offset": 0.876, "color": "rgba(0,0,0,0)"}, {"offset": 0.876, "color": "#000"}, {"offset": 0.885, "color": "#000"}, {"offset": 0.885, "color": "rgba(0,0,0,0)"},
          {"offset": 0.949, "color": "rgba(0,0,0,0)"}, {"offset": 0.949, "color": "#000"}, {"offset": 0.958, "color": "#000"}, {"offset": 0.958, "color": "rgba(0,0,0,0)"},
          {"offset": 1, "color": "rgba(0,0,0,0)"}]}},
          "encoding": {"y": {"field": "value", "type": "quantitative"}, "y2": {"datum": 2}}},
        {"mark": {"type": "bar", "stroke": "black", "strokeWidth": 1.5, "fill": {"gradient": "linear", "x1": 0, "y1": 0, "x2": 0.3195, "y2": 1.1837, "stops": [
          {"offset": 0, "color": "rgba(0,0,0,0)"},
          {"offset": 0.073, "color": "rgba(0,0,0,0)"}, {"offset": 0.073, "color": "#000"}, {"offset": 0.082, "color": "#000"}, {"offset": 0.082, "color": "rgba(0,0,0,0)"},
          {"offset": 0.146, "color": "rgba(0,0,0,0)"}, {"offset": 0.146, "color": "#000"}, {"offset": 0.155, "color": "#000"}, {"offset": 0.155, "color": "rgba(0,0,0,0)"},
          {"offset": 0.219, "color": "rgba(0,0,0,0)"}, {"offset": 0.219, "color": "#000"}, {"offset": 0.228, "color": "#000"}, {"offset": 0.228, "color": "rgba(0,0,0,0)"},
          {"offset": 0.292, "color": "rgba(0,0,0,0)"}, {"offset": 0.292, "color": "#000"}, {"offset": 0.301, "color": "#000"}, {"offset": 0.301, "color": "rgba(0,0,0,0)"},
          {"offset": 0.365, "color": "rgba(0,0,0,0)"}, {"offset": 0.365, "color": "#000"}, {"offset": 0.374, "color": "#000"}, {"offset": 0.374, "color": "rgba(0,0,0,0)"},
          {"offset": 0.438, "color": "rgba(0,0,0,0)"}, {"offset": 0.438, "color": "#000"}, {"offset": 0.447, "color": "#000"}, {"offset": 0.447, "color": "rgba(0,0,0,0)"},
          {"offset": 0.511, "color": "rgba(0,0,0,0)"}, {"offset": 0.511, "color": "#000"}, {"offset": 0.52, "color": "#000"}, {"offset": 0.52, "color": "rgba(0,0,0,0)"},
          {"offset": 0.584, "color": "rgba(0,0,0,0)"}, {"offset": 0.584, "color": "#000"}, {"offset": 0.593, "color": "#000"}, {"offset": 0.593, "color": "rgba(0,0,0,0)"},
          {"offset": 0.657, "color": "rgba(0,0,0,0)"}, {"offset": 0.657, "color": "#000"}, {"offset": 0.666, "color": "#000"}, {"offset": 0.666, "color": "rgba(0,0,0,0)"},
          {"offset": 0.73, "color": "rgba(0,0,0,0)"}, {"offset": 0.73, "color": "#000"}, {"offset": 0.739, "color": "#000"}, {"offset": 0.739, "color": "rgba(0,0,0,0)"},
          {"offset": 0.803, "color": "rgba(0,0,0,0)"}, {"offset": 0.803, "color": "#000"}, {"offset": 0.812, "color": "#000"}, {"offset": 0.812, "color": "rgba(0,0,0,0)"},
          {"offset": 0.876, "color": "rgba(0,0,0,0)"}, {"offset": 0.876, "color": "#000"}, {"offset": 0.885, "color": "#000"}, {"offset": 0.885, "color": "rgba(0,0,0,0)"},
          {"offset": 0.949, "color": "rgba(0,0,0,0)"}, {"offset": 0.949, "color": "#000"}, {"offset": 0.958, "color": "#000"}, {"offset": 0.958, "color": "rgba(0,0,0,0)"},
          {"offset": 1, "color": "rgba(0,0,0,0)"}]}},
          "encoding": {"y": {"field": "value", "type": "quantitative"}, "y2": {"datum": 2}}}
      ]
    },
    {
      "mark": {"type": "rule", "color": "black", "strokeWidth": 1.5},
      "encoding": {
        "y": {"field": "lo", "type": "quantitative"},
        "y2": {"field": "hi"}
      }
    },
    {
      "mark": {"type": "tick", "color": "black", "thickness": 1.5, "size": 11, "orient": "horizontal"},
      "encoding": {"y": {"field": "hi", "type": "quantitative"}}
    },
    {
      "mark": {"type": "tick", "color": "black", "thickness": 1.5, "size": 11, "orient": "horizontal"},
      "encoding": {"y": {"field": "lo", "type": "quantitative"}}
    },
    {
      "mark": {"type": "text", "font": "Liberation Serif", "fontSize": 26, "fontWeight": "bold", "baseline": "alphabetic", "dy": -8, "color": "black"},
      "encoding": {
        "y": {"field": "hi", "type": "quantitative"},
        "text": {"field": "letter"}
      }
    }
  ]
}
